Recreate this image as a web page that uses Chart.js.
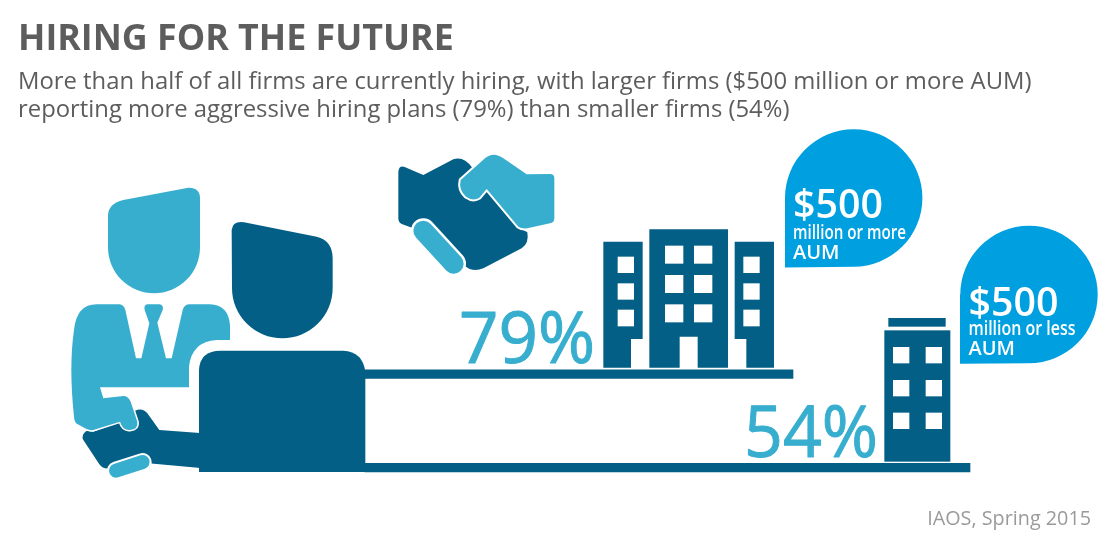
<!DOCTYPE html>
<html><head><meta charset="utf-8">
<style>html,body{margin:0;padding:0;background:#fff}canvas{display:block}</style>
<script src="https://cdn.jsdelivr.net/npm/chart.js@4"></script>
</head><body><canvas id="c" width="1111" height="547"></canvas>
<script>
// ---- data ----
const titleText = "HIRING FOR THE FUTURE";
const subtitleLines = [
  "More than half of all firms are currently hiring, with larger firms ($500 million or more AUM)",
  "reporting more aggressive hiring plans (79%) than smaller firms (54%)"
];
const sourceText = "IAOS, Spring 2015";
const firmAmounts = ["$500", "$500"];
const firmCategories = ["million or more", "million or less"];
const firmUnits = ["AUM", "AUM"];
const hiringPercent = [79, 54];

// ---- layout & style (illustration, not data) ----
const LIGHT = "#38AECF", DARK = "#035F85", BUBBLE = "#00A0E0", TEXT = "#5D5D5D";
const FONT = '"Open Sans"';
const shelves = [{x:[365,793],y:374.2},{x:[365,970],y:467.6}];
const percentAnchors = [{x:459,y:363},{x:744,y:457}];
const percentWidth = [136,134];
const bubbles = [
  {cx:853.7,cy:198,r:68.7,cornerX:785,cornerY:267.5,tx:793,y0:218.3,y1:239.3,y2:259.3,w0:90,w1:113},
  {cx:1029,cy:294.5,r:68.7,cornerX:960,cornerY:363.7,tx:968.5,y0:316,y1:335,y2:355,w0:90,w1:107}
];

function path(ctx, ox, oy, cmds){
  const p = new Path2D();
  const X = v => ox + v/3, Y = v => oy + v/3;
  cmds.forEach(c => {
    if (c[0]==='M') p.moveTo(X(c[1]),Y(c[2]));
    else if (c[0]==='L') p.lineTo(X(c[1]),Y(c[2]));
    else if (c[0]==='Q') p.quadraticCurveTo(X(c[1]),Y(c[2]),X(c[3]),Y(c[4]));
    else if (c[0]==='A') p.arc(X(c[1]),Y(c[2]),c[3]/3,c[4],c[5],c[6]);
    else if (c[0]==='Z') p.closePath();
  });
  return p;
}
function fillHalo(ctx,p,color,halo){
  if(halo){ctx.strokeStyle="#fff";ctx.lineWidth=halo;ctx.lineJoin="round";ctx.stroke(p);}
  ctx.fillStyle=color;ctx.fill(p);
}
function pill(ctx,ox,oy,x1,y1,x2,y2,w,halo){
  ctx.lineCap="round";
  ctx.beginPath();ctx.moveTo(ox+x1/3,oy+y1/3);ctx.lineTo(ox+x2/3,oy+y2/3);
  ctx.strokeStyle="#fff";ctx.lineWidth=(w+halo)/3;ctx.stroke();
  ctx.strokeStyle=LIGHT;ctx.lineWidth=w/3;ctx.stroke();
  ctx.lineCap="butt";
}
function rects(ctx,ox,oy,list,color){
  ctx.fillStyle=color;
  list.forEach(r=>ctx.fillRect(ox+r[0]/3,oy+r[1]/3,(r[2]-r[0])/3,(r[3]-r[1])/3));
}
function drawPeople(ctx){
  const ox=60,oy=150;
  fillHalo(ctx,path(ctx,ox,oy,[['M',144,195],['Q',146,160,190,150],['L',385,113],['Q',420,112,420,145],['L',420,292],
    ['A',282,292,138,0,Math.PI,false],['Z']]),LIGHT);
  fillHalo(ctx,path(ctx,ox,oy,[['M',515,240],['Q',518,212,552,217],['L',770,260],['Q',818,272,818,325],['L',818,414],
    ['A',667,414,151,0,Math.PI,false],['Z']]),DARK);
  fillHalo(ctx,path(ctx,ox,oy,[['M',430,850],['L',298,840],['L',262,790],['Q',248,772,225,782],['L',180,815],['L',100,845],
    ['L',80,842],['Q',62,855,70,870],['L',118,943],['Q',128,958,150,955],['L',265,940],['L',430,955],['Z']]),DARK);
  fillHalo(ctx,path(ctx,ox,oy,[['M',42,540],['Q',50,463,110,463],['L',178,463],['Q',192,465,196,480],['L',228,625],['L',244,625],
    ['L',268,520],['L',254,480],['Q',250,463,265,463],['L',298,463],['Q',312,465,308,480],['L',292,518],['L',318,625],['L',335,625],
    ['L',368,480],['Q',372,463,390,463],['L',450,463],['Q',505,465,510,525],['L',510,570],['L',470,570],['Q',395,575,387,650],
    ['L',387,712],['L',120,712],['L',130,745],['L',190,738],['Q',205,738,212,755],['L',232,815],['Q',235,838,210,840],['Q',188,842,180,815],
    ['L',100,840],['Q',85,842,75,835],['L',48,820],['Q',42,812,42,800],['Q',26,650,42,540],['Z']]),LIGHT,3);
  pill(ctx,ox,oy,168,962,248,936,42,12);
  fillHalo(ctx,path(ctx,ox,oy,[['M',417,660],['Q',420,602,482,602],['L',850,602],['Q',908,605,916,665],['L',916,966],['L',417,966],['Z']]),DARK);
}
function drawHandshake(ctx){
  const ox=390,oy=145;
  fillHalo(ctx,path(ctx,ox,oy,[['M',25,80],['Q',27,60,44,66],['L',100,90],['L',190,43],['Q',220,32,247,68],['L',290,130],['L',390,250],['L',412,262],
    ['Q',418,295,395,310],['L',280,370],['Q',250,382,228,365],['L',110,235],['L',70,250],['L',35,237],['Q',25,232,25,220],['Z']]),DARK);
  fillHalo(ctx,path(ctx,ox,oy,[['M',212,105],['L',285,40],['Q',310,18,340,40],['L',410,88],['L',480,87],['Q',493,87,493,100],['L',493,220],['Q',493,233,480,235],
    ['L',412,250],['Q',395,252,385,245],['L',290,132],['L',268,158],['Q',250,170,228,155],['Q',205,135,212,105],['Z']]),LIGHT,4);
  pill(ctx,ox,oy,100,257,191,356,60,14);
}
function drawBuildings(ctx){
  let ox=590,oy=125;
  fillHalo(ctx,path(ctx,ox,oy,[['M',40,350],['L',158,350],['L',158,642],['L',123,642],['L',123,728],['L',40,728],['Z']]),DARK);
  fillHalo(ctx,path(ctx,ox,oy,[['M',178,313],['L',414,313],['L',414,728],['L',323,728],['L',323,635],['L',269,635],['L',269,728],['L',178,728],['Z']]),DARK);
  fillHalo(ctx,path(ctx,ox,oy,[['M',434,350],['L',552,350],['L',552,728],['L',469,728],['L',469,642],['L',434,642],['Z']]),DARK);
  const ys=[[395,444],[475,524],[554,604]], yc=[[362,416],[450,504],[538,592]];
  ys.forEach(y=>rects(ctx,ox,oy,[[83,y[0],132,y[1]],[460,y[0],509,y[1]]],"#fff"));
  yc.forEach(y=>rects(ctx,ox,oy,[[225,y[0],280,y[1]],[312,y[0],367,y[1]]],"#fff"));
  ox=740;oy=220;
  rects(ctx,ox,oy,[[445,294,617,320],[433,331,631,725]],DARK);
  [[381,430],[480,529],[578,627]].forEach(y=>rects(ctx,ox,oy,[[459,y[0],508,y[1]],[557,y[0],606,y[1]]],"#fff"));
}
function drawBubbles(ctx){
  bubbles.forEach((b,i)=>{
    ctx.fillStyle=BUBBLE;
    ctx.beginPath();
    ctx.arc(b.cx,b.cy,b.r,Math.PI,Math.PI/2,false);
    ctx.lineTo(b.cornerX,b.cornerY);
    ctx.lineTo(b.cornerX,b.cy);
    ctx.closePath();ctx.fill();
    ctx.fillStyle="#fff";ctx.textAlign="left";ctx.textBaseline="alphabetic";
    ctx.font=`600 40px ${FONT}`;ctx.fillText(firmAmounts[i],b.tx,b.y0,b.w0);
    ctx.font=`600 20.5px ${FONT}`;ctx.fillText(firmCategories[i],b.tx,b.y1,b.w1);
    ctx.font=`600 20px ${FONT}`;ctx.fillText(firmUnits[i],b.tx,b.y2);
  });
}
const illustration = {
  id:"illustration",
  beforeDatasetsDraw(chart){
    const ctx=chart.ctx;ctx.save();
    drawPeople(ctx);drawHandshake(ctx);drawBuildings(ctx);drawBubbles(ctx);
    ctx.textAlign="left";ctx.textBaseline="alphabetic";
    ctx.fillStyle=TEXT;
    ctx.font=`700 35.8px ${FONT}`;ctx.fillText(titleText,18,49.5);
    ctx.font=`400 23.85px ${FONT}`;
    ctx.fillText(subtitleLines[0],18,89);
    ctx.fillText(subtitleLines[1],18,117);
    ctx.fillStyle="#9A9A9A";ctx.textAlign="right";
    ctx.font=`400 19.8px ${FONT}`;ctx.fillText(sourceText,1091,525);
    ctx.restore();
  },
  afterDatasetsDraw(chart){
    const ctx=chart.ctx;ctx.save();
    ctx.fillStyle=LIGHT;ctx.strokeStyle=LIGHT;ctx.lineWidth=1;ctx.lineJoin="round";
    ctx.textAlign="left";ctx.textBaseline="alphabetic";
    ctx.font=`400 71px ${FONT}`;
    chart.getDatasetMeta(1).data.forEach((pt,i)=>{
      const t=hiringPercent[i]+"%";
      ctx.fillText(t,pt.x,pt.y,percentWidth[i]);
      ctx.strokeText(t,pt.x,pt.y,percentWidth[i]);
    });
    ctx.restore();
  }
};
new Chart(document.getElementById("c"),{
  type:"bar",
  data:{datasets:[
    {type:"bar",label:"Shelf",indexAxis:"y",grouped:false,barThickness:8.6,backgroundColor:DARK,data:shelves},
    {type:"scatter",label:"Firms currently hiring (%)",pointRadius:0,data:percentAnchors}
  ]},
  options:{
    responsive:false,animation:false,devicePixelRatio:1,
    layout:{padding:0},
    plugins:{legend:{display:false},tooltip:{enabled:false},title:{display:false}},
    scales:{
      x:{type:"linear",min:0,max:1111,display:false,offset:false},
      y:{type:"linear",min:0,max:547,reverse:true,display:false,offset:false}
    }
  },
  plugins:[illustration]
});
</script></body></html>
